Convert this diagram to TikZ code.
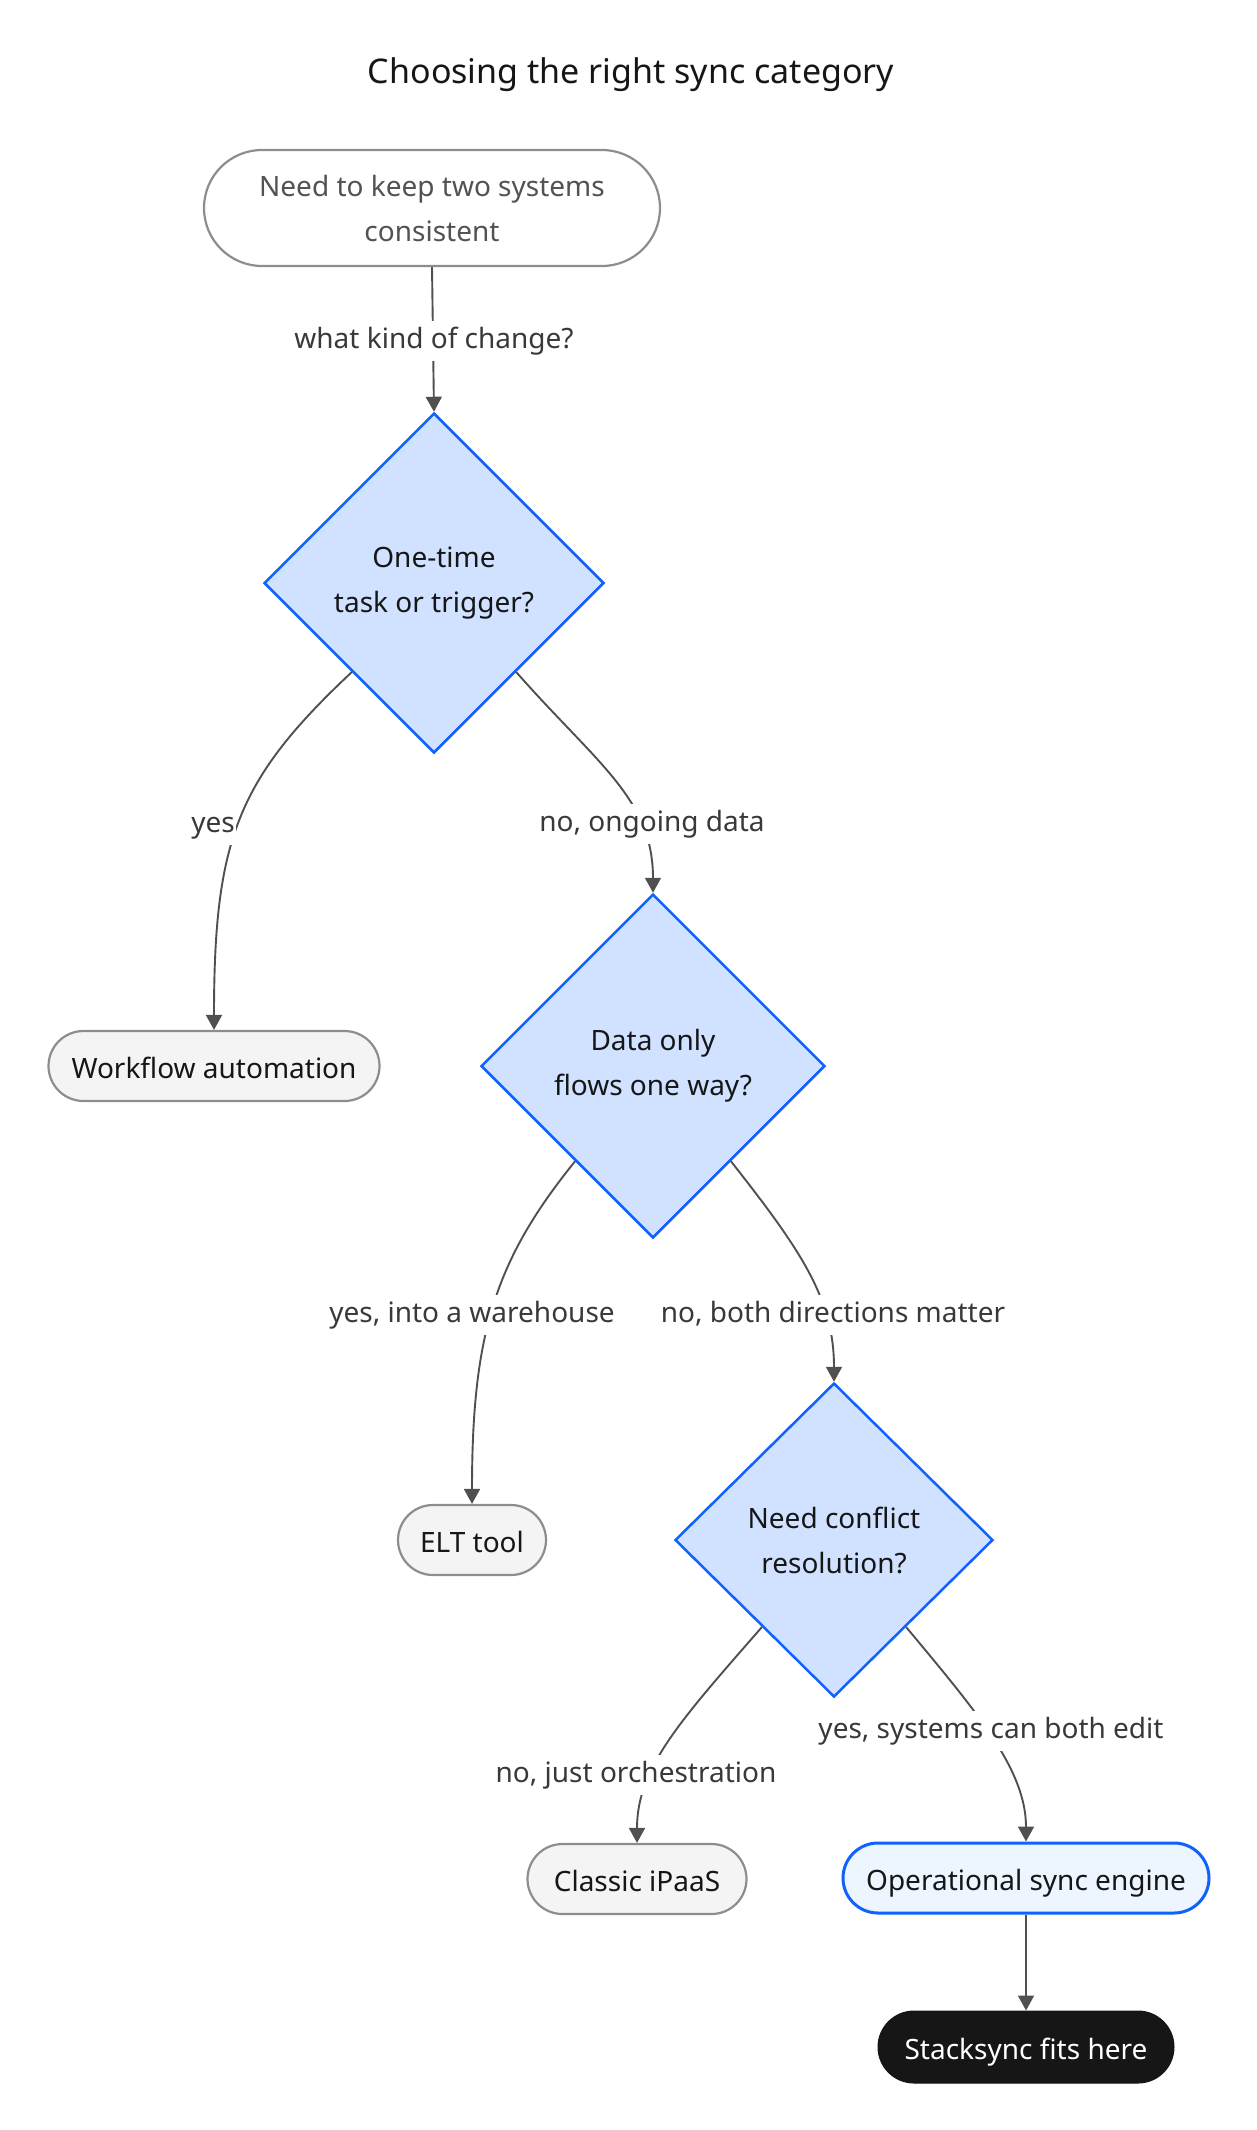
\documentclass[tikz,border=0pt]{standalone}
\usepackage{fontspec}
\setmainfont{Noto Sans}
\usetikzlibrary{shapes.geometric,arrows.meta,calc}
\definecolor{edgec}{HTML}{505050}
\definecolor{grayS}{HTML}{8D8D8D}
\definecolor{grayF}{HTML}{F4F4F4}
\definecolor{blueS}{HTML}{0F62FE}
\definecolor{blueF}{HTML}{D0E2FF}
\definecolor{blueL}{HTML}{EDF5FF}
\definecolor{ink}{HTML}{161616}
\definecolor{starttext}{HTML}{525252}
\definecolor{labeltext}{HTML}{393939}
\begin{document}
\begin{tikzpicture}[x=1pt,y=-1pt,
  every node/.style={font=\fontsize{28}{45}\selectfont, align=center, inner sep=0pt, text=ink},
  decision/.style={diamond, draw=blueS, fill=blueF, line width=2.5pt},
  oneline/.style={text height=26pt, text depth=2pt},
  labelline/.style={text height=21pt, text depth=7pt},
  endbox/.style={rectangle, rounded corners=35pt, draw=grayS, fill=grayF, line width=2.2pt, minimum height=70pt, oneline},
  startbox/.style={rectangle, rounded corners=58pt, draw=grayS, fill=white, line width=2.2pt, minimum width=456pt, minimum height=116pt, text=starttext},
  opbox/.style={rectangle, rounded corners=35pt, draw=blueS, fill=blueL, line width=3pt, minimum height=70pt, oneline},
  darkbox/.style={rectangle, rounded corners=36pt, draw=ink, fill=ink, line width=1pt, minimum height=72pt, text=white, oneline},
  elabel/.style={fill=white, inner xsep=1pt, inner ysep=6pt, labelline, text=labeltext},
  conn/.style={draw=edgec, line width=1.9pt, -{Triangle[length=15pt,width=16pt]}},
  titlestyle/.style={font=\fontsize{34}{40}\selectfont, text=ink}
]
\useasboundingbox (0,0) rectangle (1256,2130);

\node[titlestyle] (title) at (631,75) {Choosing the right sync category};

\node[startbox] (start) at (432,208) {Need to keep two systems\\consistent};
\node[decision, minimum width=340pt, minimum height=340pt] (d1) at (434,583) {One-time\\task or trigger?};
\node[endbox, minimum width=331pt] (wf) at (214,1066) {Workflow automation};
\node[decision, minimum width=344pt, minimum height=344pt] (d2) at (653,1066) {Data only\\flows one way?};
\node[endbox, minimum width=148pt] (elt) at (472,1540) {ELT tool};
\node[decision, minimum width=318pt, minimum height=314pt] (d3) at (834,1540) {Need conflict\\resolution?};
\node[endbox, minimum width=219pt] (ipaas) at (637,1879) {Classic iPaaS};
\node[opbox, minimum width=366pt] (ops) at (1026,1878) {Operational sync engine};
\node[darkbox, minimum width=296pt] (stack) at (1026,2047) {Stacksync fits here};

\draw[conn] (start.south) -- (d1.north);
\draw[conn] ($(d1.west)!0.52!(d1.south)$) .. controls +(-114,107) and +(0,-191) .. (wf.north);
\draw[conn] ($(d1.east)!0.52!(d1.south)$) .. controls +(81,92) and +(0,-94) .. (d2.north);
\draw[conn] ($(d2.west)!0.55!(d2.south)$) .. controls +(-80,99) and +(0,-170) .. (elt.north);
\draw[conn] ($(d2.east)!0.55!(d2.south)$) .. controls +(70,89) and +(0,-83) .. (d3.north);
\draw[conn] ($(d3.west)!0.55!(d3.south)$) .. controls +(-82,94) and +(0,-75) .. (ipaas.north);
\draw[conn] ($(d3.east)!0.55!(d3.south)$) .. controls +(70,84) and +(0,-72) .. (ops.north);
\draw[conn] (ops.south) -- (stack.north);

\node[elabel] (l1) at (434,341) {what kind of change?};
\node[elabel] (l2) at (213,825) {yes};
\node[elabel] (l3) at (652,824) {no, ongoing data};
\node[elabel] (l4) at (472,1315) {yes, into a warehouse};
\node[elabel] (l5) at (833,1315) {no, both directions matter};
\node[elabel] (l6) at (636,1775) {no, just orchestration};
\node[elabel] (l7) at (991,1731) {yes, systems can both edit};
\end{tikzpicture}
\end{document}
